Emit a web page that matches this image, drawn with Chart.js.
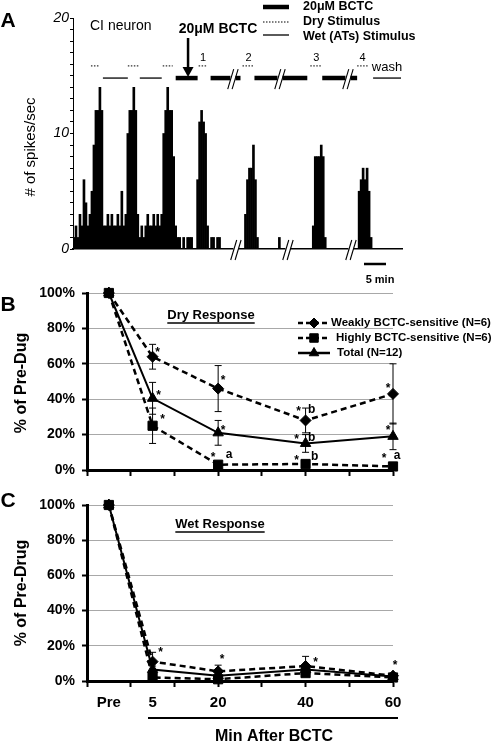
<!DOCTYPE html>
<html><head><meta charset="utf-8">
<script src="https://cdn.jsdelivr.net/npm/chart.js@4/dist/chart.umd.min.js"></script>
<style>
html,body{margin:0;padding:0;background:#fff;}
#wrap{position:relative;width:498px;height:742px;overflow:hidden;background:#fff;}
canvas{position:absolute;left:0;top:0;}
</style></head><body>
<div id="wrap">
<canvas id="cA" width="498" height="742"></canvas>
<canvas id="cB" width="498" height="742"></canvas>
<canvas id="cC" width="498" height="742"></canvas>
</div>
<script>
// ---------------- DATA ----------------
// Panel A: spikes/sec histogram, one value per time bin
const spikeCounts = [
  1,2,1,3,2,6,4,2,3,
  5,9,12,12,14,12,
  2,2,3,2,3,2,2,3,2,5,2,3,
  10,12,12,14,12,3,
  1,2,1,2,3,2,2,3,2,3,2,
  3,10,12,14,12,12,8,2,
  1,1,0,1,0,1,1,1,0,0,
  6,11,12,11,10,2,
  0,1,1,0,1,1,
  0,0,0,0,0,0,0,0,0,0,0,0,
  3,6,7,7,9,6,1,
  0,0,0,0,0,0,0,0,0,0,
  1,
  0,0,0,0,0,0,0,0,0,0,0,0,0,0,0,0,
  2,8,8,8,9,8,1,
  0,0,0,0,0,0,0,0,0,0,0,0,0,0,0,0,
  5,6,7,6,7,5,1,
  0,0,0,0,0,0,0,0,0,0,0,0,0,0,0
];
// stimulus periods (start/end, in time bins)
const dryStim  = [[8.5,13],[27,32.5],[44.5,49.5],[62.5,67],[84.5,90.5],[118.5,124.5],[142,147.5]];
const dryStimLabels = ['', '', '', '1', '2', '3', '4'];
const wetStim  = [[14.5,27],[33,44]];
const washStim = [[150,164]];
const bctcStim = [[51,62],[68.5,83.5],[90.5,117],[124.5,142]];
const bctcArrowTime = 57.2;
const timeBreaks = [81.2,107.3,138.9];
const stimBreaks = [79.7,103.3,137.4];
const yTicksA = [0,10,20];

// Panels B & C
const timePoints = [-5,5,20,40,60];
const timeLabels = ['Pre','5','20','40','60'];
const seriesNames = ['Weakly BCTC-sensitive (N=6)','Highly BCTC-sensitive (N=6)','Total (N=12)'];

const weakDry     = [100,64,46,28,43];
const weakDryErr  = [0,7,13,7,17];
const highDry     = [100,25,3,3.4,2];
const highDryErr  = [0,10,1,1,1];
const totalDry    = [100,40.5,21,15,19];
const totalDryErr = [0,9,7,5,7.5];

const weakWet     = [100,11,5.5,8.5,3];
const weakWetErr  = [0,5.3,3.5,5.5,1];
const highWet     = [100,2,1,4.5,2];
const highWetErr  = [0,1,1,1.5,1];
const totalWet    = [100,6.5,3,6.5,2.5];
const totalWetErr = [0,2,1.5,2,1];

// significance marks: [series, timeIndex, text]
const drySig = [
  [0,1,'*'],[0,2,'*'],[0,3,'*'],[0,3,'b'],[0,4,'*'],
  [2,1,'*'],[2,2,'*'],[2,3,'*'],[2,3,'b'],[2,4,'*'],
  [1,1,'*'],[1,2,'*'],[1,2,'a'],[1,3,'*'],[1,3,'b'],[1,4,'*'],[1,4,'a']
];
const wetSig = [[0,1,'*'],[0,2,'*'],[0,3,'*'],[0,4,'*']];

// ---------------- LAYOUT / STYLE ----------------
const FF = '"Liberation Sans", Arial, Helvetica, sans-serif';
Chart.defaults.font.family = FF;
Chart.defaults.color = '#000';
Chart.defaults.animation = false;
Chart.defaults.plugins.legend.display = false;
Chart.defaults.plugins.tooltip.enabled = false;

const drySigOffsets = [
  [5,-7],[5,-10],[-7,-11],[6,-11],[-5,-8],
  [6,-5],[5,-5],[-9,-6],[6,-6],[-5,-8],
  [10,-9],[-5,-10],[11,-10],[-9,-6],[9,-7],[-9,-10],[4,-11]
];
const wetSigOffsets = [[8,-11],[4,-14],[10,-6],[2,-13]];

const DRY_LEVEL = 15.85, WET_LEVEL = 14.8;

function txt(ctx, s, x, y, font, align, base) {
  ctx.font = font; ctx.textAlign = align || 'left'; ctx.textBaseline = base || 'middle';
  ctx.fillStyle = '#000'; ctx.fillText(s, x, y);
}
function vtxt(ctx, s, x, y, font) {
  ctx.save(); ctx.translate(x, y); ctx.rotate(-Math.PI/2);
  txt(ctx, s, 0, 0, font, 'center', 'middle'); ctx.restore();
}
function hline(ctx, x1, x2, y, lw, dash) {
  ctx.save(); ctx.strokeStyle = '#000'; ctx.lineWidth = lw; ctx.setLineDash(dash || []);
  ctx.beginPath(); ctx.moveTo(x1, y); ctx.lineTo(x2, y); ctx.stroke(); ctx.restore();
}
function drawBreak(ctx, cx, cy, gap) {
  ctx.save();
  if (gap) { ctx.fillStyle = '#fff'; ctx.fillRect(cx-2.5, cy-3, 5, 6); }
  ctx.strokeStyle = '#000'; ctx.lineWidth = 1.1;
  [-2.2, 2.2].forEach(d => { ctx.beginPath(); ctx.moveTo(cx+d-3, cy+11); ctx.lineTo(cx+d+3, cy-9); ctx.stroke(); });
  ctx.restore();
}

// ---------------- PANEL A ----------------
function segDatasets(segs, level, style) {
  return segs.map(s => Object.assign({
    type:'line', data:[{x:s[0],y:level},{x:s[1],y:level}], pointRadius:0,
    borderColor:'#000', fill:false, clip:false, order:0
  }, style));
}
const panelAPlugin = {
  id:'panelA',
  afterDraw(chart) {
    const {ctx, scales:{x, y}} = chart;
    ctx.save();
    const y0 = y.getPixelForValue(0);
    timeBreaks.forEach(t => drawBreak(ctx, x.getPixelForValue(t), y0, true));
    const yw = y.getPixelForValue(WET_LEVEL), yd = y.getPixelForValue(DRY_LEVEL);
    stimBreaks.forEach(t => drawBreak(ctx, x.getPixelForValue(t), yw, true));
    // labels of dry stimuli
    dryStim.forEach((s, i) => {
      if (dryStimLabels[i]) txt(ctx, dryStimLabels[i], x.getPixelForValue((s[0]+s[1])/2), yd-8, '11px '+FF, 'center');
    });
    washStim.forEach(s => txt(ctx, 'wash', x.getPixelForValue((s[0]+s[1])/2), yw-11, '13px '+FF, 'center'));
    // arrow
    const ax = x.getPixelForValue(bctcArrowTime);
    ctx.strokeStyle = '#000'; ctx.lineWidth = 2.5;
    ctx.beginPath(); ctx.moveTo(ax, 38); ctx.lineTo(ax, yw-8); ctx.stroke();
    ctx.fillStyle = '#000'; ctx.beginPath();
    ctx.moveTo(ax-5.5, yw-11); ctx.lineTo(ax+5.5, yw-11); ctx.lineTo(ax, yw-1); ctx.closePath(); ctx.fill();
    txt(ctx, '20\u03BCM BCTC', 218, 29, 'bold 14px '+FF, 'center');
    txt(ctx, 'CI neuron', 90, 26, '14px '+FF);
    txt(ctx, 'A', 8, 21, 'bold 21px '+FF, 'center');
    vtxt(ctx, '# of spikes/sec', 31, 147, '15px '+FF);
    // legend
    hline(ctx, 263, 289, 7, 4.5);
    hline(ctx, 263, 289, 22, 1.2, [1.5,1.5]);
    hline(ctx, 263, 289, 35, 1.3);
    txt(ctx, '20\u03BCM BCTC', 303, 7, 'bold 12.5px '+FF);
    txt(ctx, 'Dry Stimulus', 303, 22, 'bold 12.5px '+FF);
    txt(ctx, 'Wet (ATs) Stimulus', 303, 37, 'bold 12.5px '+FF);
    // scale bar
    hline(ctx, 364, 386, 264, 2.5);
    txt(ctx, '5 min', 380, 280, 'bold 11px '+FF, 'center');
    ctx.restore();
  }
};
new Chart(document.getElementById('cA'), {
  type:'bar',
  data:{ datasets:[
    { type:'bar', data: spikeCounts.map((v,i)=>({x:i, y:v})), backgroundColor:'#000', borderWidth:0,
      barPercentage:1, categoryPercentage:1, order:5 },
    ...segDatasets(dryStim, DRY_LEVEL, {borderWidth:1.2, borderDash:[1.5,1.5], borderColor:'#333'}),
    ...segDatasets(wetStim.concat(washStim), WET_LEVEL, {borderWidth:1.3}),
    ...segDatasets(bctcStim, WET_LEVEL, {borderWidth:4.5})
  ]},
  options:{
    responsive:false, animation:false,
    layout:{padding:{left:33, right:96, top:18, bottom:488}},
    scales:{
      x:{type:'linear', min:-0.5, max:spikeCounts.length-0.5, offset:false,
         grid:{display:false, offset:false}, ticks:{display:false},
         border:{color:'#000', width:1.5}, afterFit:s=>{s.height=5;}},
      y:{type:'linear', min:0, max:20,
         ticks:{stepSize:1, autoSkip:false, padding:1, font:{size:14, style:'italic'},
                callback:v => yTicksA.includes(v) ? String(v) : ''},
         grid:{drawOnChartArea:false, tickLength:3, color:'#000', tickColor:'#000'},
         border:{color:'#000', width:1}, afterFit:s=>{s.width=40;}}
    }
  },
  plugins:[panelAPlugin]
});

// ---------------- PANELS B & C ----------------
const SERIES_STYLES = [
  {borderWidth:2.5, borderDash:[6,4], pointStyle:'rectRot', pointRadius:5.5, order:1},
  {borderWidth:2.5, borderDash:[6,4], pointStyle:'rect', pointRadius:6.5, order:0},
  {borderWidth:2, borderDash:[], pointStyle:'triangle', pointRadius:6, order:2}
];
function seriesDS(vals, errs, k) {
  return Object.assign({
    type:'line', data: timePoints.map((t,i)=>({x:t, y:vals[i]})), errors: errs,
    borderColor:'#000', backgroundColor:'#000', pointBackgroundColor:'#000', pointBorderColor:'#000',
    pointBorderWidth:1, fill:false, tension:0, clip:false
  }, SERIES_STYLES[k]);
}
const tickVals = [-10,-5,0,5,10,20,30,40,50,60];
function xScaleOpts(showLabels, H) {
  return {
    type:'linear', min:-10, max:60,
    afterBuildTicks: s => { s.ticks = tickVals.map(v => ({value:v})); },
    ticks:{display:showLabels, autoSkip:false, maxRotation:0, padding:7, font:{size:15, weight:'bold'},
           callback: v => { const i = timePoints.indexOf(v); return i >= 0 ? timeLabels[i] : ''; }},
    grid:{drawOnChartArea:false, tickLength:6, tickWidth:2,
          tickColor: c => (c.tick && c.tick.value % 10 === 0) ? '#000' : 'rgba(0,0,0,0)'},
    border:{color:'#000', width:3},
    afterFit: s => { s.height = H; }
  };
}
const yScaleOpts = {
  type:'linear', min:0, max:100,
  ticks:{stepSize:20, padding:7, font:{size:14, weight:'bold'}, callback: v => v + '%'},
  grid:{color:'#a8a8a8', lineWidth:1, tickLength:5, tickColor:'#000', tickWidth:2},
  border:{color:'#000', width:3},
  afterFit: s => { s.width = 60; }
};
function drawErrorBars(chart) {
  const {ctx, scales:{x, y}} = chart;
  ctx.save(); ctx.strokeStyle = '#000'; ctx.lineWidth = 1; ctx.setLineDash([]);
  chart.data.datasets.forEach(ds => {
    ds.data.forEach((p, i) => {
      const e = ds.errors[i]; if (!e) return;
      const px = x.getPixelForValue(p.x), t = y.getPixelForValue(p.y + e), b = y.getPixelForValue(Math.max(p.y - e, 0));
      ctx.beginPath(); ctx.moveTo(px, t); ctx.lineTo(px, b);
      ctx.moveTo(px-3.5, t); ctx.lineTo(px+3.5, t);
      ctx.moveTo(px-3.5, b); ctx.lineTo(px+3.5, b); ctx.stroke();
    });
  });
  ctx.restore();
}
function drawSig(chart, sig, offs) {
  const {ctx, scales:{x, y}} = chart;
  sig.forEach((m, k) => {
    const ds = chart.data.datasets[m[0]], p = ds.data[m[1]];
    const px = x.getPixelForValue(p.x) + offs[k][0], py = y.getPixelForValue(p.y) + offs[k][1];
    txt(ctx, m[2], px, m[2] === '*' ? py + 2.5 : py, 'bold 12px '+FF, 'center');
  });
}
function drawMarker(ctx, k, x, y) {
  const st = SERIES_STYLES[k];
  ctx.save(); ctx.fillStyle = '#000'; ctx.strokeStyle = '#000';
  Chart.helpers.drawPoint(ctx, {pointStyle:st.pointStyle, radius:st.pointRadius-0.5, borderWidth:1, rotation:0}, x, y);
  ctx.restore();
}

const panelBPlugin = {
  id:'panelB',
  beforeDatasetsDraw(chart) { drawErrorBars(chart); },
  afterDraw(chart) {
    const ctx = chart.ctx;
    drawSig(chart, drySig, drySigOffsets);
    txt(ctx, 'B', 8, 305, 'bold 21px '+FF, 'center');
    vtxt(ctx, '% of Pre-Dug', 22, 383, 'bold 16px '+FF);
    txt(ctx, 'Dry Response', 211, 315, 'bold 13px '+FF, 'center');
    ctx.font = 'bold 13px '+FF; const w = ctx.measureText('Dry Response').width;
    hline(ctx, 211 - w/2, 211 + w/2, 323, 1.3);
    // legend
    const ly = [323, 338, 353], tx = [331, 336, 337];
    seriesNames.forEach((n, k) => {
      const st = SERIES_STYLES[k];
      hline(ctx, 298, 330, ly[k], 2.5, k < 2 ? [5,3] : []);
      drawMarker(ctx, k, 314, ly[k]);
      txt(ctx, n, tx[k], ly[k], 'bold 11.5px '+FF);
    });
  }
};
new Chart(document.getElementById('cB'), {
  type:'line',
  data:{ datasets:[ seriesDS(weakDry, weakDryErr, 0), seriesDS(highDry, highDryErr, 1), seriesDS(totalDry, totalDryErr, 2) ]},
  options:{
    responsive:false, animation:false,
    layout:{padding:{left:27, right:105, top:293, bottom:252}},
    scales:{ x: xScaleOpts(false, 20), y: yScaleOpts }
  },
  plugins:[panelBPlugin]
});

const panelCPlugin = {
  id:'panelC',
  beforeDatasetsDraw(chart) { drawErrorBars(chart); },
  afterDraw(chart) {
    const ctx = chart.ctx;
    drawSig(chart, wetSig, wetSigOffsets);
    txt(ctx, 'C', 8, 501, 'bold 21px '+FF, 'center');
    vtxt(ctx, '% of Pre-Drug', 22, 593, 'bold 16px '+FF);
    txt(ctx, 'Wet Response', 220, 524, 'bold 13px '+FF, 'center');
    ctx.font = 'bold 13px '+FF; const w = ctx.measureText('Wet Response').width;
    hline(ctx, 220 - w/2, 220 + w/2, 532, 1.3);
    hline(ctx, 148, 398, 718, 2);
    txt(ctx, 'Min After BCTC', 274, 741, 'bold 16px '+FF, 'center', 'alphabetic');
  }
};
new Chart(document.getElementById('cC'), {
  type:'line',
  data:{ datasets:[ seriesDS(weakWet, weakWetErr, 0), seriesDS(highWet, highWetErr, 1), seriesDS(totalWet, totalWetErr, 2) ]},
  options:{
    responsive:false, animation:false,
    layout:{padding:{left:27, right:105, top:505, bottom:21}},
    scales:{ x: xScaleOpts(true, 40), y: yScaleOpts }
  },
  plugins:[panelCPlugin]
});
</script>
</body></html>
